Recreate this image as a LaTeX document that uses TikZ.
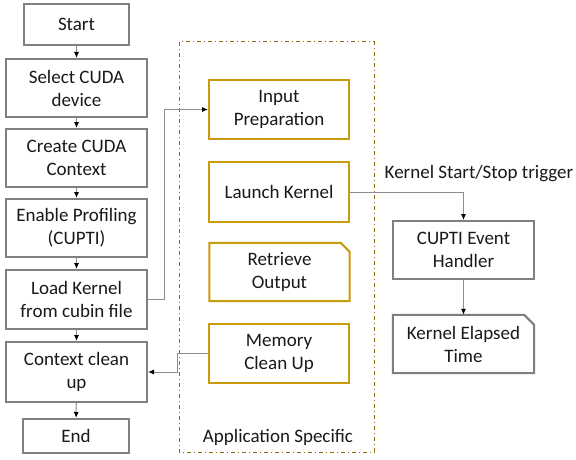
\documentclass[tikz,border=0pt]{standalone}
\usepackage{fontspec}
\setmainfont{Carlito}
\usetikzlibrary{arrows.meta}
\definecolor{boxgray}{HTML}{7F7F7F}
\definecolor{gold}{HTML}{C89B0C}
\definecolor{olive}{HTML}{8C6D10}
\definecolor{linegray}{HTML}{8C8C8C}
\begin{document}
\begin{tikzpicture}[x=1pt,y=-1pt,
  every node/.style={font=\fontsize{19}{23}\selectfont, text=black!90, align=center, inner sep=0pt},
  graybox/.style={draw=boxgray, line width=2pt, minimum width=141pt, minimum height=58pt},
  goldbox/.style={draw=gold, line width=2pt, minimum width=140pt, minimum height=59pt},
  plainbox/.style={minimum width=140pt, minimum height=58pt},
  conn/.style={draw=linegray, line width=1pt, -{Latex[length=6pt,width=5pt,black]}}
]
\useasboundingbox (0,0) rectangle (576,460);
\fill[white] (0,0) rectangle (576,460);

% container
\draw[olive, line width=1pt, dash pattern=on 4pt off 3pt on 1pt off 3pt] (179,42) rectangle (374,452);
\node (appspec) at (278,437) {Application Specific};

% left column
\node[graybox, minimum width=105pt, minimum height=41pt] (start) at (76.5,24.5) {Start};
\node[graybox] (select) at (76.5,88) {Select CUDA\\device};
\node[graybox] (create) at (76.5,158) {Create CUDA\\Context};
\node[graybox] (enable) at (76.5,228) {Enable Profiling\\(CUPTI)};
\node[graybox, minimum height=59pt] (load) at (76.5,299.5) {Load Kernel\\from cubin file};
\node[graybox, minimum height=60pt] (context) at (76.5,372) {Context clean\\up};
\node[graybox, minimum width=106pt, minimum height=34pt] (end) at (76,436) {End};

% application specific
\node[goldbox] (input) at (279,109.5) {Input\\Preparation};
\node[goldbox, minimum height=60pt] (launch) at (279,192) {Launch Kernel};
\node[plainbox] (retrieve) at (279.5,272) {Retrieve\\Output};
\draw[gold, line width=2pt] (retrieve.south west) -- (retrieve.north west) -- ([xshift=-9pt]retrieve.north east) -- ([yshift=-9pt]retrieve.north east) -- (retrieve.south east) -- cycle;
\node[goldbox] (memory) at (279,353.5) {Memory\\Clean Up};

% right
\node[graybox] (cupti) at (463.5,250) {CUPTI Event\\Handler};
\node[plainbox, minimum width=141pt] (elapsed) at (463.5,344) {Kernel Elapsed\\Time};
\draw[boxgray, line width=2pt] (elapsed.south west) -- (elapsed.north west) -- ([xshift=-10pt]elapsed.north east) -- ([yshift=-10pt]elapsed.north east) -- (elapsed.south east) -- cycle;
\node (trig) at (479,174) {Kernel Start/Stop trigger};

% connectors
\draw[conn] (start) -- (select);
\draw[conn] (select) -- (create);
\draw[conn] (create) -- (enable);
\draw[conn] (enable) -- (load);
\draw[conn] (load) -- (context);
\draw[conn] (context) -- (end);
\draw[conn] (load.east) -- ++(16,0) |- (input.west);
\draw[conn] (launch.east) -| (cupti.north);
\draw[conn] (cupti) -- (elapsed);
\draw[conn] (memory.west) -- ++(-31,0) |- (context.east);
\end{tikzpicture}
\end{document}
